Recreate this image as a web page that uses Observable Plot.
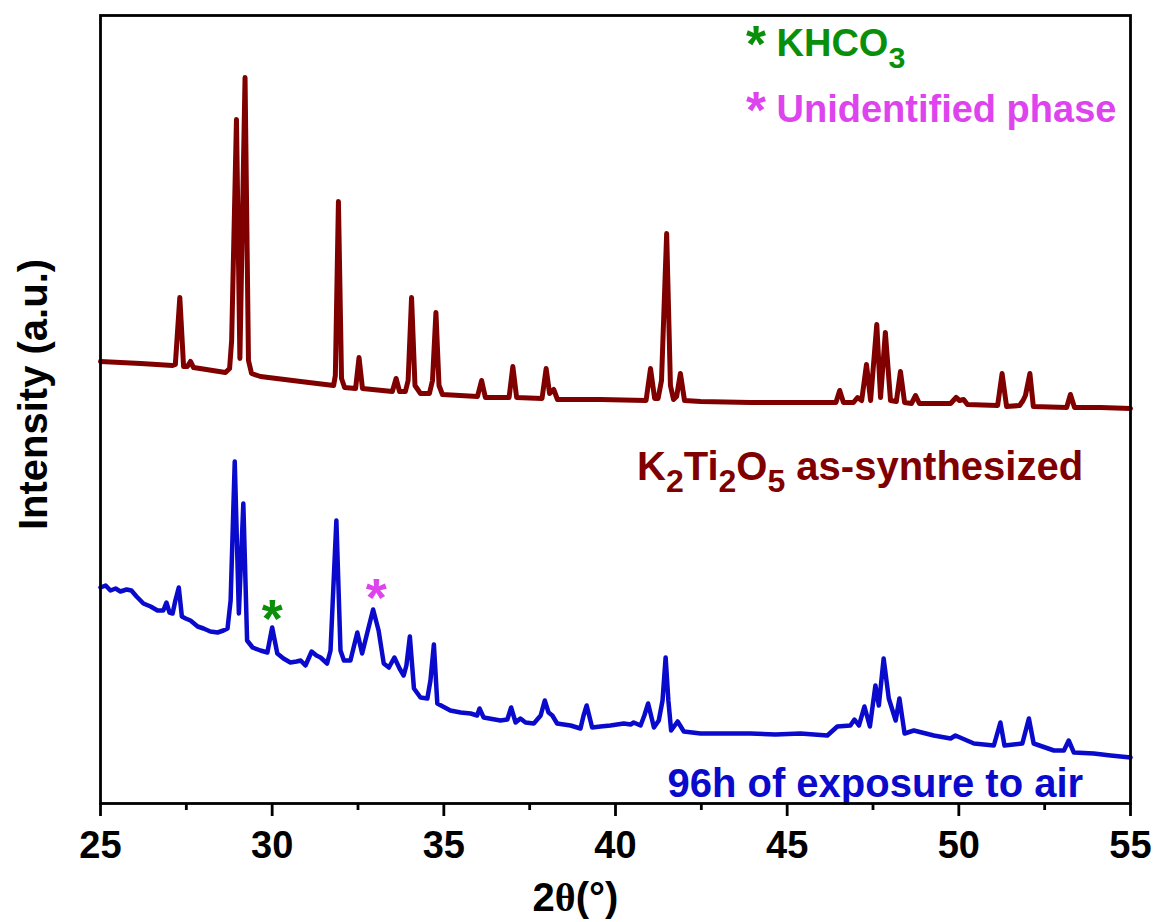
<!DOCTYPE html>
<html>
<head>
<meta charset="utf-8">
<script src="https://cdn.jsdelivr.net/npm/d3@7"></script>
<script src="https://cdn.jsdelivr.net/npm/@observablehq/plot@0.6"></script>
<style>
  html, body { margin: 0; padding: 0; background: #fff; }
  #chart svg { display: block; }
</style>
</head>
<body>
<div id="chart"></div>
<script>
// ---- Data (2θ in degrees, intensity in a.u.) ----
const redTheta = [25.00,26.17,27.10,27.18,27.31,27.42,27.53,27.62,27.71,28.64,28.76,28.82,28.96,29.06,29.21,29.31,29.40,29.66,30.83,31.79,31.84,31.93,32.02,32.11,32.43,32.53,32.63,33.50,33.61,33.71,33.88,33.96,34.06,34.16,34.32,34.58,34.67,34.77,34.86,34.96,35.98,36.10,36.21,36.90,37.01,37.12,37.86,37.98,38.08,38.20,38.31,39.56,40.89,41.02,41.14,41.24,41.34,41.49,41.60,41.69,41.78,41.89,42.01,42.48,43.93,45.39,46.42,46.53,46.64,46.93,47.05,47.17,47.31,47.43,47.61,47.72,47.86,48.01,48.18,48.30,48.42,48.62,48.74,48.85,49.76,49.92,50.02,50.14,50.25,51.13,51.26,51.39,51.77,51.87,51.94,52.07,52.17,53.14,53.25,53.37,54.13,55.00];
const redIntensity = [442,440,438,439,506,437,437,442,436,431,435,463,684,445,726,443,430,427,422,418,428,602,425,416,415,446,415,412,425,412,412,423,506,418,410,410,423,491,418,409,407,423,406,406,437,406,405,435,410,414,404,404,403,435,405,405,423,570,418,404,407,430,403,402,401,401,401,413,401,401,406,403,439,403,479,406,471,403,402,432,401,400,408,400,400,406,403,404,399,398,430,397,398,403,408,430,397,396,409,396,396,395];

const blueTheta = [25.00,25.15,25.29,25.44,25.58,25.76,25.90,26.05,26.25,26.46,26.66,26.83,26.92,27.01,27.10,27.18,27.28,27.37,27.48,27.62,27.83,28.00,28.20,28.41,28.58,28.70,28.79,28.91,29.03,29.16,29.27,29.43,29.66,29.86,30.00,30.15,30.33,30.53,30.71,30.83,30.97,31.15,31.29,31.41,31.60,31.70,31.87,31.99,32.09,32.28,32.48,32.62,32.75,32.94,33.10,33.25,33.40,33.56,33.71,33.83,33.91,34.01,34.13,34.32,34.52,34.61,34.71,34.81,35.19,35.49,35.78,35.97,36.04,36.16,36.65,36.85,36.96,37.09,37.23,37.38,37.62,37.82,37.94,38.05,38.16,38.30,38.69,38.98,39.07,39.16,39.32,39.56,39.85,40.24,40.44,40.53,40.73,40.84,40.95,41.12,41.26,41.37,41.46,41.54,41.62,41.81,41.99,42.48,43.20,43.93,44.66,45.39,46.17,46.46,46.84,46.96,47.09,47.25,47.41,47.57,47.67,47.81,47.96,48.16,48.27,48.42,48.69,49.27,49.76,49.90,50.44,51.02,51.21,51.33,51.85,52.04,52.18,52.77,53.06,53.20,53.35,53.93,54.42,55.00];
const blueIntensity = [216,218,213,215,212,214,213,207,200,197,193,193,201,191,190,203,216,187,185,183,177,175,172,171,173,175,203,342,190,300,163,156,153,151,176,150,145,141,142,143,138,152,148,146,140,153,283,153,143,143,171,150,168,194,173,140,136,146,135,128,138,167,115,106,105,123,159,100,93,91,90,88,95,86,83,84,96,81,85,81,80,88,103,91,88,80,78,75,88,98,76,77,78,80,79,81,78,88,100,76,83,103,146,103,73,82,72,70,70,70,69,70,68,77,78,84,78,97,77,118,98,145,105,83,105,70,73,68,65,68,60,58,81,58,60,85,60,53,53,63,51,50,48,46];

// axis ticks
const xTicks = [25, 30, 35, 40, 45, 50, 55];
const xMinorTicks = [27.5, 32.5, 37.5, 42.5, 47.5, 52.5];

// phase markers (asterisks above the peaks of the exposed sample)
const markerTheta = [30.00, 33.03];
const markerIntensity = [193, 214];
const markerColor = ["#0a8f0a", "#dd44ee"];

// curve labels
const curveLabel = ["K_2Ti_2O_5 as-synthesized", "96h of exposure to air"];
const curveLabelTheta = [53.62, 53.62];
const curveLabelIntensity = [324, 7];
const curveLabelColor = ["#800000", "#0a0acc"];

// legend entries
const legendLabel = ["* KHCO_3", "* Unidentified phase"];
const legendTheta = [43.80, 43.80];
const legendIntensity = [748, 682];
const legendColor = ["#0a8f0a", "#dd44ee"];

// ---- Build tables ----
const red = redTheta.map((t, i) => ({theta: t, intensity: redIntensity[i]}));
const blue = blueTheta.map((t, i) => ({theta: t, intensity: blueIntensity[i]}));
const markers = markerTheta.map((t, i) => ({theta: t, intensity: markerIntensity[i], color: markerColor[i]}));
const labels = curveLabel.map((s, i) => ({text: s, theta: curveLabelTheta[i], intensity: curveLabelIntensity[i], color: curveLabelColor[i]}));
const legend = legendLabel.map((s, i) => ({text: s, theta: legendTheta[i], intensity: legendIntensity[i], color: legendColor[i]}));

const FONT = "'Liberation Sans', Arial, Helvetica, sans-serif";

const chart = Plot.plot({
  width: 1165,
  height: 922,
  marginLeft: 100,
  marginRight: 35,
  marginTop: 15,
  marginBottom: 119,
  style: {fontFamily: FONT, background: "#fff", color: "#000"},
  x: {domain: [25, 55]},
  y: {domain: [0, 788]},
  color: {type: "identity"},
  marks: [
    Plot.axisX({ticks: xTicks, tickSize: 13, tickPadding: 15, strokeWidth: 2.8, fontSize: 38, fontWeight: "bold", label: null, tickFormat: d => String(d)}),
    Plot.axisX({ticks: xMinorTicks, tickSize: 7, strokeWidth: 2.8, text: null, label: null}),
    Plot.axisY({ticks: [], label: null}),
    Plot.line(red, {x: "theta", y: "intensity", stroke: "#800000", strokeWidth: 5, strokeLinejoin: "round", strokeLinecap: "round"}),
    Plot.line(blue, {x: "theta", y: "intensity", stroke: "#0a0acc", strokeWidth: 4.5, strokeLinejoin: "round", strokeLinecap: "round"}),
    Plot.text(markers, {x: "theta", y: "intensity", text: () => "*", fill: d => d.color, fontSize: 54, fontWeight: "bold", lineAnchor: "bottom", dy: 26}),
    Plot.text(labels, {x: "theta", y: "intensity", text: "text", fill: d => d.color, fontSize: 40, fontWeight: "bold", textAnchor: "end", lineAnchor: "bottom"}),
    Plot.text(legend, {x: "theta", y: "intensity", text: "text", fill: d => d.color, fontSize: 38, fontWeight: "bold", textAnchor: "start", lineAnchor: "bottom"}),
    Plot.text(["Intensity (a.u.)"], {frameAnchor: "left", rotate: -90, dx: -54, dy: -15, lineAnchor: "bottom", textAnchor: "middle", fontSize: 40, fontWeight: "bold", fill: "#000"}),
    Plot.text(["2θ(°)"], {frameAnchor: "bottom", dx: -40, dy: 107, lineAnchor: "bottom", textAnchor: "middle", fontSize: 40, fontWeight: "bold", fill: "#000"}),
    Plot.frame({stroke: "#000", strokeWidth: 2.8})
  ]
});

// rich text: "_d" -> subscript, θ -> serif glyph, leading "* " -> larger asterisk
function richify(el) {
  const s = el.textContent;
  if (!/[_θ]|^\* /.test(s)) return;
  while (el.firstChild) el.removeChild(el.firstChild);
  const ns = "http://www.w3.org/2000/svg";
  const re = /(_\d)|(θ)|(^\*)|([^_θ]+)/g;
  let m, pendingUp = null;
  while ((m = re.exec(s))) {
    const ts = document.createElementNS(ns, "tspan");
    if (m[1]) {
      ts.textContent = m[1].slice(1);
      ts.setAttribute("font-size", "80%");
      ts.setAttribute("dy", "0.4em");
      pendingUp = "-0.32em";
    } else if (m[3]) {
      ts.textContent = "*";
      ts.setAttribute("font-size", "135%");
      ts.setAttribute("dy", "0.12em");
      pendingUp = "-0.162em";
    } else {
      if (pendingUp) { ts.setAttribute("dy", pendingUp); pendingUp = null; }
      ts.textContent = m[2] || m[4];
      if (m[2]) ts.setAttribute("font-family", "'Liberation Serif', 'DejaVu Serif', serif");
    }
    el.appendChild(ts);
  }
}
d3.select(chart).selectAll("text").each(function() { richify(this); });

document.getElementById("chart").appendChild(chart);
</script>
</body>
</html>
